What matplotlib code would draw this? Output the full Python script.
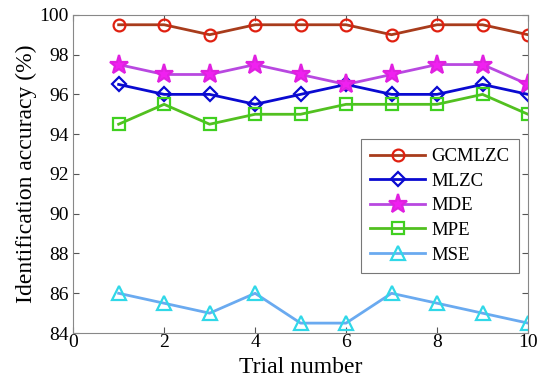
import matplotlib
matplotlib.use('Agg')
import matplotlib.pyplot as plt

trials = [1, 2, 3, 4, 5, 6, 7, 8, 9, 10]
gcmlzc = [99.5, 99.5, 99, 99.5, 99.5, 99.5, 99, 99.5, 99.5, 99]
mlzc = [96.5, 96, 96, 95.5, 96, 96.5, 96, 96, 96.5, 96]
mde = [97.5, 97, 97, 97.5, 97, 96.5, 97, 97.5, 97.5, 96.5]
mpe = [94.5, 95.5, 94.5, 95, 95, 95.5, 95.5, 95.5, 96, 95]
mse = [86, 85.5, 85, 86, 84.5, 84.5, 86, 85.5, 85, 84.5]

plt.rcParams['font.family'] = ['Liberation Serif', 'DejaVu Serif']

fig = plt.figure(figsize=(5.5, 3.9), dpi=100)
ax = fig.add_axes([0.133, 0.146, 0.827, 0.816])

# (label, values, line colour, marker, marker edge, marker face, size)
series = [
    ('GCMLZC', gcmlzc, '#a83c1c', 'o', '#e02010', 'none', 8.5),
    ('MLZC', mlzc, '#0a0ad0', 'D', '#0a0ad0', 'none', 7),
    ('MDE', mde, '#b848e0', '*', '#e020e0', '#f020f0', 14),
    ('MPE', mpe, '#52c020', 's', '#40d020', 'none', 8),
    ('MSE', mse, '#6aaaf0', '^', '#30d8e8', 'none', 9.5),
]

for name, vals, lc, mk, mec, mfc, ms in series:
    ax.plot(trials, vals, color=lc, lw=2, marker=mk, markersize=ms,
            markeredgecolor=mec, markerfacecolor=mfc, markeredgewidth=1.6,
            label=name)

ax.set_xlim(0, 10)
ax.set_ylim(84, 100)
ax.set_xticks(range(0, 11, 2))
ax.set_yticks(range(84, 101, 2))
ax.tick_params(direction='in', top=True, right=True, labelsize=14, length=4,
               color='#555555')
ax.tick_params(axis='x', pad=1)
ax.tick_params(axis='y', pad=3)
for s in ax.spines.values():
    s.set_color('#888888')

ax.set_xlabel('Trial number', fontsize=17, labelpad=4)
ax.set_ylabel('Identification accuracy (%)', fontsize=17, labelpad=2)

leg = ax.legend(loc='upper right', bbox_to_anchor=(0.98, 0.611), fontsize=13.5,
                frameon=True, fancybox=False, edgecolor='#555555',
                handlelength=2.9, handletextpad=0.35, labelspacing=0.4,
                borderpad=0.5, borderaxespad=0)
leg.get_frame().set_linewidth(0.8)

fig.savefig('out.png', dpi=100)
